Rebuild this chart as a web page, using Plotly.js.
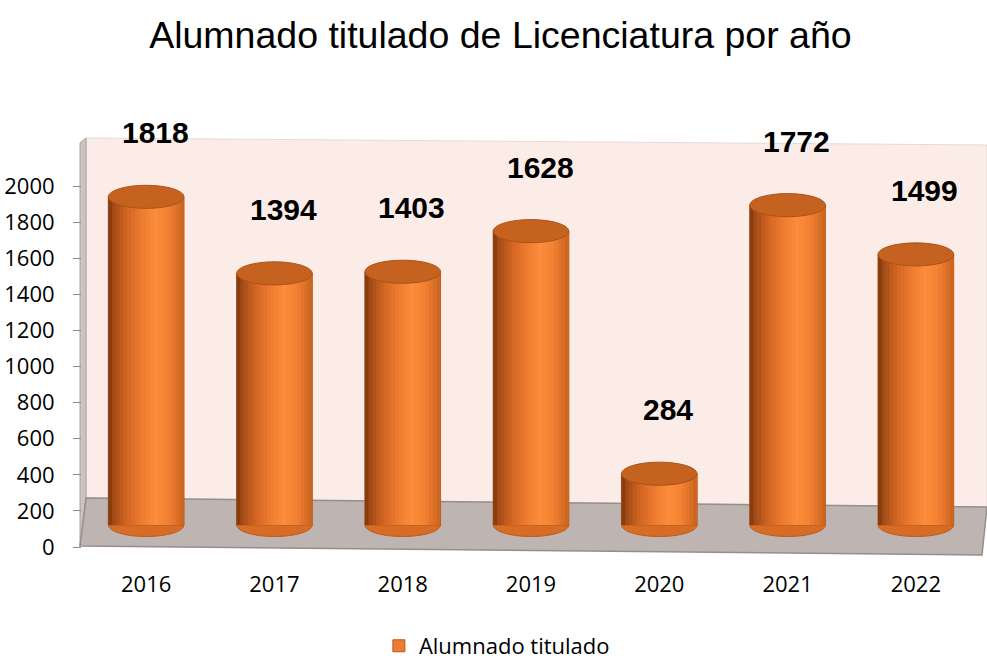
<!DOCTYPE html>
<html>
<head>
<meta charset="utf-8">
<script src="https://cdn.plot.ly/plotly-3.0.1.min.js"></script>
<style>html,body{margin:0;padding:0;background:#fff;}#chart{width:987px;height:662px;}</style>
</head>
<body>
<div id="chart"></div>
<script>
// ---- data ----
const years = ['2016', '2017', '2018', '2019', '2020', '2021', '2022'];
const graduates = [1818, 1394, 1403, 1628, 284, 1772, 1499];
const yTickValues = [0, 200, 400, 600, 800, 1000, 1200, 1400, 1600, 1800, 2000];
const seriesName = 'Alumnado titulado';
const chartTitle = 'Alumnado titulado de Licenciatura por año';

// ---- styling helpers ----
const PL = 82, PW = 898, PB = 547, PH = 409;   // plot area in pixels
function P(x, y) { return ((x - PL) / PW).toFixed(4) + ',' + ((PB - y) / PH).toFixed(4); }
function poly(pts) { return 'M' + pts.map(p => P(p[0], p[1])).join(' L') + ' Z'; }

const barW = 0.59;
const capHalf = 64;           // half height of cylinder cap in value units
const N = 20;                 // shading strips

const stops = [
  [0.00, [120, 54, 14]],
  [0.08, [165, 76, 22]],
  [0.25, [210, 102, 34]],
  [0.45, [238, 124, 48]],
  [0.62, [252, 141, 60]],
  [0.80, [242, 128, 50]],
  [1.00, [200, 98, 30]]
];
function shade(t) {
  for (let i = 1; i < stops.length; i++) {
    if (t <= stops[i][0]) {
      const a = stops[i - 1], b = stops[i];
      const f = (t - a[0]) / (b[0] - a[0]);
      const c = a[1].map((v, j) => Math.round(v + (b[1][j] - v) * f));
      return 'rgb(' + c.join(',') + ')';
    }
  }
  return 'rgb(200,98,30)';
}

const traces = [];
// invisible reference trace on the visible value axis
traces.push({type: 'scatter', x: years, y: graduates, yaxis: 'y', mode: 'none',
  showlegend: false, hoverinfo: 'skip'});
// base body (also provides the legend entry)
traces.push({
  type: 'bar', x: years, y: graduates, yaxis: 'y2', name: seriesName,
  width: barW, marker: {color: '#ED7D31', line: {color: '#b8581a', width: 1}},
  showlegend: true, hoverinfo: 'skip'
});
for (let k = 0; k < N; k++) {
  const t = (k + 0.5) / N;
  const sw = barW / N;
  traces.push({
    type: 'bar', x: years, y: graduates, yaxis: 'y2',
    offset: -barW / 2 + k * sw, width: (k === N - 1 ? sw : sw * 1.3),
    marker: {color: shade(t), line: {width: 0}},
    showlegend: false, hoverinfo: 'skip'
  });
}

// background decoration (wall, side, floor)
const shapes = [
  {type: 'path', xref: 'paper', yref: 'paper', layer: 'below',
   path: poly([[86, 138], [987, 145], [987, 507], [86, 498]]),
   fillcolor: 'rgb(252,236,232)', line: {color: 'rgb(230,218,214)', width: 1}},
  {type: 'path', xref: 'paper', yref: 'paper', layer: 'below',
   path: poly([[80, 143], [86, 138], [86, 498], [80, 546]]),
   fillcolor: 'rgb(205,196,194)', line: {color: 'rgb(170,160,158)', width: 1}},
  {type: 'path', xref: 'paper', yref: 'paper', layer: 'below',
   path: poly([[86, 498], [987, 507], [982, 555], [80, 546]]),
   fillcolor: 'rgb(190,180,178)', line: {color: 'rgb(150,142,140)', width: 1.5}}
];
// bottom caps (below bars) and top caps (above bars)
graduates.forEach((v, i) => {
  shapes.push({type: 'circle', xref: 'x', yref: 'y2', layer: 'below',
    x0: i - barW / 2, x1: i + barW / 2, y0: -capHalf, y1: capHalf,
    fillcolor: 'rgb(214,108,38)', line: {color: 'rgb(190,92,28)', width: 1}});
  shapes.push({type: 'circle', xref: 'x', yref: 'y2', layer: 'above',
    x0: i - barW / 2, x1: i + barW / 2, y0: v - capHalf, y1: v + capHalf,
    fillcolor: 'rgb(198,98,32)', line: {color: 'rgb(172,82,24)', width: 1}});
});

const annotations = graduates.map((v, i) => ({
  x: i, y: v, xref: 'x', yref: 'y2', text: '<b>' + v + '</b>', showarrow: false,
  xshift: 9, yshift: 64,
  font: {family: 'Liberation Sans, Arial, sans-serif', size: 30, color: '#000'}
}));

const layout = {
  width: 987, height: 662,
  margin: {l: PL, r: 987 - PL - PW, t: PB - PH, b: 662 - PB, autoexpand: false},
  paper_bgcolor: '#fff', plot_bgcolor: 'rgba(0,0,0,0)',
  barmode: 'overlay',
  title: {text: chartTitle, x: 0.507, xanchor: 'center', y: 0.947, yanchor: 'middle',
          font: {family: 'Liberation Sans, Arial, sans-serif', size: 37.5, color: '#000'}},
  xaxis: {type: 'category', range: [-0.5, 6.5], showline: false, showgrid: false, zeroline: false,
          ticks: '', ticklabelstandoff: 22,
          tickfont: {family: 'Open Sans, sans-serif', size: 22, color: '#000'}, fixedrange: true},
  yaxis: {range: [0, 2266], tickmode: 'array', tickvals: yTickValues, ticktext: yTickValues.map(String),
          showline: false, showgrid: false, zeroline: false,
          ticks: 'outside', ticklen: 8, tickcolor: '#8a8a8a', tickwidth: 1, ticklabelstandoff: 14,
          tickfont: {family: 'Open Sans, sans-serif', size: 22, color: '#000'}, fixedrange: true},
  yaxis2: {overlaying: 'y', range: [-122, 2144], visible: false, fixedrange: true},
  showlegend: true,
  legend: {orientation: 'h', x: 0.462, xanchor: 'center', y: -0.242, yanchor: 'middle',
           font: {family: 'Open Sans, sans-serif', size: 22, color: '#000'}, bgcolor: 'rgba(0,0,0,0)'},
  shapes: shapes, annotations: annotations
};

Plotly.newPlot('chart', traces, layout, {displayModeBar: false, staticPlot: true});
</script>
</body>
</html>
